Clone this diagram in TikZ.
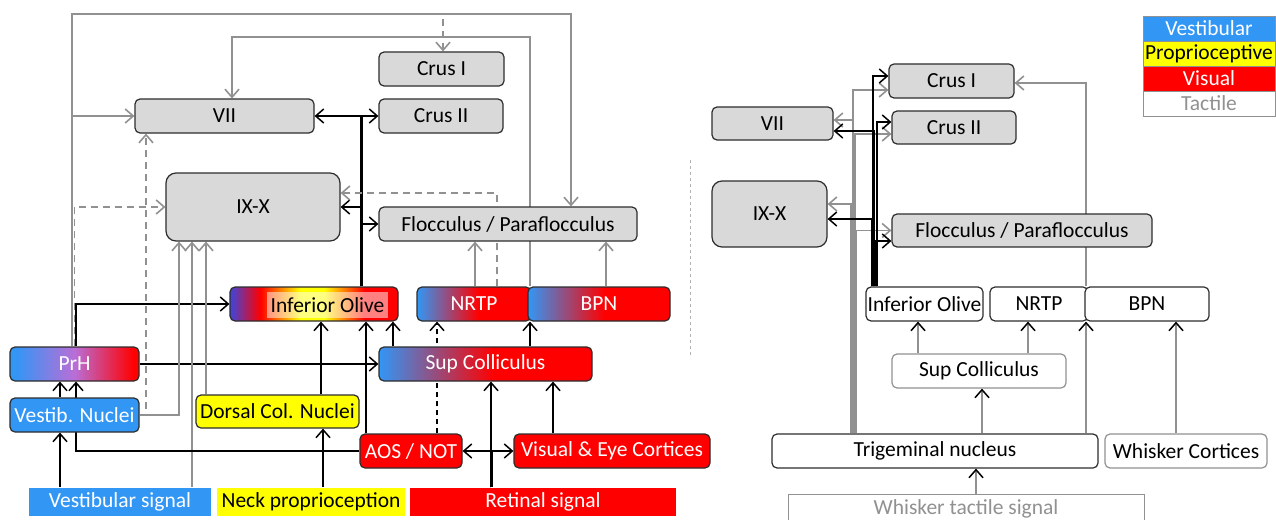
\documentclass[tikz,border=0pt]{standalone}
\usepackage{fontspec}
\setmainfont{Carlito}
\usetikzlibrary{arrows.meta}
\usetikzlibrary{positioning}
\usetikzlibrary{backgrounds}
\definecolor{cgray}{RGB}{217,217,217}
\definecolor{lgray}{RGB}{145,145,145}
\definecolor{vblue}{RGB}{50,150,245}
\definecolor{ioblue}{RGB}{60,70,220}
\definecolor{vred}{RGB}{255,0,0}
\definecolor{vyellow}{RGB}{255,255,0}
\definecolor{prhmid}{RGB}{185,110,215}
\definecolor{boxedge}{RGB}{45,45,45}
\pgfdeclarehorizontalshading{ioshade}{100bp}{color(0bp)=(ioblue); color(25bp)=(ioblue);
    color(34bp)=(vred); color(46bp)=(vyellow); color(53bp)=(vyellow);
    color(65bp)=(vred); color(100bp)=(vred)}
\pgfdeclarehorizontalshading{halfshade}{100bp}{color(0bp)=(vblue); color(25bp)=(vblue);
    color(52bp)=(vred); color(100bp)=(vred)}
\pgfdeclarehorizontalshading{prhshade}{100bp}{color(0bp)=(vblue); color(27bp)=(vblue);
    color(50bp)=(prhmid); color(73bp)=(vred); color(100bp)=(vred)}

\begin{document}
\begin{tikzpicture}[
    x=1pt, y=-1pt,
    font=\fontsize{21.5}{25}\selectfont,
    box/.style={
        draw=boxedge, line width=1.2pt, rounded corners=5pt,
        inner sep=0pt, minimum height=34pt
    },
    greybox/.style={box, fill=cgray},
    whitebox/.style={box, fill=white},
    bluebox/.style={box, fill=vblue, text=white},
    redbox/.style={box, fill=vred, text=white},
    yellowbox/.style={box, fill=vyellow},
    mixbox/.style={box, shade, shading=#1, text=white},
    sigbox/.style={inner sep=0pt, minimum height=28pt},
    legbox/.style={
        draw=lgray, line width=0.8pt, outer sep=0pt,
        inner sep=0pt, minimum width=132pt, minimum height=25pt
    },
    gline/.style={
        draw=lgray, line width=1.6pt,
        -{Straight Barb[length=8pt,width=14pt,line width=1.6pt]}
    },
    gdash/.style={gline, dash pattern=on 7pt off 5pt},
    bline/.style={
        draw=black, line width=1.3pt,
        -{Straight Barb[length=8pt,width=14pt,line width=1.5pt]}
    },
    bdash/.style={bline, dash pattern=on 5pt off 4pt},
    tline/.style={
        draw=lgray, line width=1.4pt,
        -{Straight Barb[length=8pt,width=14pt,line width=1.5pt,color=black]}
    }
]
    \useasboundingbox (0,0) rectangle (1276,519);

    % left: rodent (all senses)
    \node[greybox, minimum width=125pt] (crusIa) at (441.5,69) {Crus I};
    \node[greybox, minimum width=179pt] (viiA) at (224.5,116) {VII};
    \node[greybox, minimum width=124pt] (crusIIa) at (441,116) {Crus II};
    \node[greybox, minimum width=174pt, minimum height=68pt,
        rounded corners=10pt] (ixxA) at (253,207) {IX-X};
    \node[greybox, minimum width=258pt] (floccA) at (508,224)
        {Flocculus / Paraflocculus};
    \node[box, shade, shading=ioshade, minimum width=168pt] (ioA) at (314,304) {};
    \node[fill=white, fill opacity=0.5, text opacity=1, inner sep=0pt,
        minimum width=121pt, minimum height=26pt] (ioTxt) at (327.5,305)
        {Inferior Olive};
    \node[mixbox=halfshade, minimum width=114pt] (nrtpA) at (474,304) {NRTP};
    \node[mixbox=halfshade, minimum width=142pt] (bpnA) at (599,304) {BPN};
    \node[mixbox=prhshade, minimum width=129pt] (prhA) at (74.5,364) {PrH};
    \node[mixbox=halfshade, minimum width=213pt] (supA) at (485.5,364)
        {Sup Colliculus};
    \node[bluebox, minimum width=129pt] (vnA) at (74.5,415) {Vestib. Nuclei};
    \node[yellowbox, minimum width=163pt, minimum height=33pt] (dcnA)
        at (277.5,411.5) {Dorsal Col. Nuclei};
    \node[redbox, minimum width=102pt] (aosA) at (411,451) {AOS / NOT};
    \node[redbox, minimum width=196pt] (vecA) at (612,451)
        {Visual \& Eye Cortices};
    \node[sigbox, fill=vblue, text=white, minimum width=182pt] (vsigA)
        at (120,501.5) {Vestibular signal};
    \node[sigbox, fill=vyellow, minimum width=188pt] (neckA)
        at (311,501.5) {Neck proprioception};
    \node[sigbox, fill=vred, text=white, minimum width=266pt] (retA)
        at (543,501.5) {Retinal signal};

    \draw[lgray!70, line width=0.8pt, dash pattern=on 3pt off 3pt]
        (690,160) -- (690,355);

    % right: whisker (tactile)
    \node[greybox, minimum width=125pt] (crusIb) at (951.5,81) {Crus I};
    \node[greybox, minimum width=121pt, minimum height=33pt] (viiB)
        at (772.5,123.5) {VII};
    \node[greybox, minimum width=124pt, minimum height=33pt] (crusIIb)
        at (954,127.5) {Crus II};
    \node[greybox, minimum width=115pt, minimum height=66pt,
        rounded corners=10pt] (ixxB) at (769.5,214) {IX-X};
    \node[greybox, minimum width=260pt, minimum height=33pt] (floccB)
        at (1022,230.5) {Flocculus / Paraflocculus};
    \node[whitebox, minimum width=117pt] (ioB) at (924.5,304) {Inferior Olive};
    \node[whitebox, minimum width=98pt] (nrtpB) at (1039,304) {NRTP};
    \node[whitebox, minimum width=124pt] (bpnB) at (1147,304) {BPN};
    \node[whitebox, draw=lgray, minimum width=174pt] (supB) at (979,371)
        {Sup Colliculus};
    \node[whitebox, minimum width=326pt] (trigB) at (935,451)
        {Trigeminal nucleus};
    \node[whitebox, draw=lgray, minimum width=162pt] (whcB) at (1186,451)
        {Whisker Cortices};
    \node[sigbox, draw=lgray, line width=1pt, fill=white, text=lgray,
        minimum width=356pt, minimum height=30pt] (wtsB) at (966,509)
        {Whisker tactile signal};

    \node[legbox, fill=vblue, text=white] (legVes) at (1209,28.5) {Vestibular};
    \node[legbox, fill=vyellow, below=0pt of legVes] (legPro) {Proprioceptive};
    \node[legbox, fill=vred, text=white, below=0pt of legPro] (legVis) {Visual};
    \node[legbox, fill=white, text=lgray, below=0pt of legVis] (legTac) {Tactile};

    \begin{scope}[on background layer]
    % PrH
    \draw[gline] ([xshift=-2.5pt]prhA.north) |- (viiA.west);
    \draw[gline] ([xshift=-2.5pt]prhA.north) -- (72,14)
        -| ([xshift=63pt]floccA.north);
    \draw[gdash] ([xshift=-2.5pt]prhA.north) -- (72,14)
        -| ([xshift=1.5pt]crusIa.north);
    \draw[gdash] (prhA.north) |- (ixxA.west);
    \draw[bline] ([xshift=1.5pt]prhA.north) |- (ioA.west);
    \draw[bline] (prhA.east) -- (supA.west);
    % vestibular
    \draw[bline] ([xshift=-60pt]vsigA.north) -- ([xshift=-14.5pt]vnA.south);
    \draw[gline] ([xshift=72pt]vsigA.north) -- ([xshift=-61pt]ixxA.south);
    \draw[bline] ([xshift=-14.5pt]vnA.north) -- ([xshift=-14.5pt]prhA.south);
    \draw[gline] (vnA.east) -| ([xshift=-74pt]ixxA.south);
    \draw[gdash] (vnA.east) -| ([xshift=-78.5pt]viiA.south);
    % proprioceptive
    \draw[bline] ([xshift=12pt]neckA.north) -- ([xshift=45.5pt]dcnA.south);
    \draw[gline] ([xshift=-71.5pt]dcnA.north) -- ([xshift=-47pt]ixxA.south);
    \draw[bline] ([xshift=43.5pt]dcnA.north) -- ([xshift=7pt]ioA.south);
    % visual
    \draw[line width=3pt] ([xshift=-52pt]retA.north) -- (491,452);
    \draw[bline] ([xshift=-52pt]retA.north) -- ([xshift=5.5pt]supA.south);
    \draw[bline] ([xshift=-52pt]retA.north) |- (aosA.east);
    \draw[bline] ([xshift=-52pt]retA.north) |- (vecA.west);
    \draw[bline] ([xshift=-59pt]vecA.north) -- ([xshift=67.5pt]supA.south);
    \draw[bline] (aosA.west) -| ([xshift=1.5pt]prhA.south);
    \draw[bline] ([xshift=-45pt]aosA.north) -- ([xshift=52pt]ioA.south);
    \draw[bdash] ([xshift=26pt]aosA.north) -- ([xshift=-37pt]nrtpA.south);
    \draw[bline] ([xshift=-92.5pt]supA.north) -- ([xshift=79pt]ioA.south);
    \draw[bline] ([xshift=44.5pt]supA.north) -- ([xshift=-69pt]bpnA.south);
    % climbing fibres
    \draw[line width=3pt] ([xshift=47pt]ioA.north) -- (361,117);
    \draw[bline] ([xshift=47pt]ioA.north) |- (viiA.east);
    \draw[bline] ([xshift=47pt]ioA.north) |- (crusIIa.west);
    \draw[bline] ([xshift=47pt]ioA.north) |- (ixxA.east);
    \draw[bline] ([xshift=47pt]ioA.north) |- (floccA.west);
    % mossy fibres
    \draw[gline] ([xshift=1pt]nrtpA.north) -- ([xshift=-33pt]floccA.south);
    \draw[gdash] ([xshift=23pt]nrtpA.north) |- ([yshift=14pt]ixxA.east);
    \draw[gline] ([xshift=7pt]bpnA.north) -- ([xshift=98pt]floccA.south);
    \draw[gline] ([xshift=-69pt]bpnA.north) -- (530,37)
        -| ([xshift=7.5pt]viiA.north);

    % whisker side
    \draw[gline] ([xshift=-82pt]trigB.north) |- ([yshift=-9pt]crusIb.west);
    \draw[gline] ([xshift=-82pt]trigB.north) |- ([yshift=3.5pt]viiB.east);
    \draw[gline] ([xshift=-80pt]trigB.north) |- ([yshift=-6.5pt]crusIIb.west);
    \draw[gline] ([xshift=-84pt]trigB.north) |- ([yshift=10pt]ixxB.east);
    \draw[gline] ([xshift=-79pt]trigB.north) |- (floccB.west);
    \draw[bline] ([xshift=-51.5pt]ioB.north) |- ([yshift=5pt]crusIb.west);
    \draw[bline] ([xshift=-50.5pt]ioB.north) |- ([yshift=-7.5pt]viiB.east);
    \draw[bline] ([xshift=-47.5pt]ioB.north) |- ([yshift=5.5pt]crusIIb.west);
    \draw[bline] ([xshift=-52.5pt]ioB.north) |- ([yshift=-5pt]ixxB.east);
    \draw[bline] ([xshift=-49.5pt]ioB.north) |- ([yshift=-10.5pt]floccB.west);
    \draw[gline] ([xshift=-61pt]bpnB.north) |- ([yshift=-2pt]crusIb.east);
    \draw[tline] ([xshift=-61pt]supB.north) -- ([xshift=-6.5pt]ioB.south);
    \draw[tline] ([xshift=49pt]supB.north) -- ([xshift=-11pt]nrtpB.south);
    \draw[tline] ([xshift=47pt]trigB.north) -- ([xshift=3pt]supB.south);
    \draw[tline] ([xshift=151pt]trigB.north) -- ([xshift=-61pt]bpnB.south);
    \draw[tline] ([xshift=-10pt]whcB.north) -- ([xshift=29pt]bpnB.south);
    \draw[tline] ([xshift=10pt]wtsB.north) -- ([xshift=41pt]trigB.south);
    \end{scope}
\end{tikzpicture}
\end{document}
